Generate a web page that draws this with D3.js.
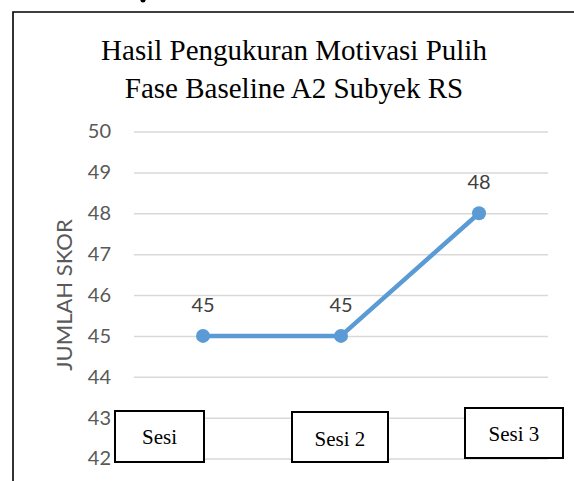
<!DOCTYPE html>
<html>
<head>
<meta charset="utf-8">
<script src="https://cdn.jsdelivr.net/npm/d3@7"></script>
<style>
  body { margin: 0; background: #fff; }
  svg { display: block; }
</style>
</head>
<body>
<div id="chart"></div>
<script>

// chart data
var categories = ["Sesi 1", "Sesi 2", "Sesi 3"];
var scores = [45, 45, 48];
var yTicks = [42, 43, 44, 45, 46, 47, 48, 49, 50];
var titleLines = ["Hasil Pengukuran Motivasi Pulih", "Fase Baseline A2 Subyek RS"];
var boxLabels = ["Sesi", "Sesi 2", "Sesi 3"];

// pasted text boxes over the category axis (left, top, width, height, text baseline)
var boxLayout = [
  {x: 115, y: 411, w: 89, h: 51, base: 444},
  {x: 292, y: 412, w: 96, h: 50, base: 446},
  {x: 465, y: 408, w: 98, h: 50, base: 441}
];

var W = 574, H = 481;
var margin = {top: 131.5, left: 134},
    width = 414,
    height = 327;

var svg = d3.select("#chart")
  .append("svg")
  .attr("width", W)
  .attr("height", H);

// frame of the picture (only top and left edges are visible)
svg.append("path")
  .attr("d", "M13,481 L13,12 L574,12")
  .attr("fill", "none")
  .attr("stroke", "#000")
  .attr("stroke-width", 1.6);

// speck of a letter cut off by the top edge
svg.append("ellipse")
  .attr("cx", 143)
  .attr("cy", 0.5)
  .attr("rx", 2.5)
  .attr("ry", 2)
  .attr("fill", "#000");

// title
svg.append("text")
  .attr("text-anchor", "middle")
  .style("font-family", "'Liberation Serif', 'Times New Roman', serif")
  .style("font-size", "29px")
  .attr("fill", "#000")
  .selectAll("tspan")
  .data(titleLines)
  .enter()
  .append("tspan")
  .attr("x", 294)
  .attr("y", function(d, i) { return 60 + i * 38; })
  .text(function(d) { return d; });

var g = svg.append("g")
  .attr("transform", "translate(" + margin.left + "," + margin.top + ")");

var xScale = d3.scalePoint()
  .domain(categories)
  .range([0, width])
  .padding(0.5);

var yScale = d3.scaleLinear()
  .domain([42, 50])
  .range([height, 0]);

// y axis with gridlines
var yAxis = d3.axisLeft(yScale)
  .tickValues(yTicks)
  .tickSizeInner(-width)
  .tickSizeOuter(0)
  .tickPadding(23);

var ya = g.append("g")
  .attr("class", "y axis")
  .call(yAxis);

ya.select(".domain").remove();
ya.selectAll("line")
  .attr("stroke", "#d9d9d9")
  .attr("stroke-width", 1.5);
ya.selectAll("text")
  .attr("fill", "#595959")
  .style("font-family", "Lato, 'Open Sans', sans-serif")
  .style("font-size", "20px");

// axis title
svg.append("text")
  .attr("transform", "translate(72,295) rotate(-90)")
  .attr("text-anchor", "middle")
  .attr("fill", "#595959")
  .style("font-family", "Lato, 'Open Sans', sans-serif")
  .style("font-size", "22px")
  .text("JUMLAH SKOR");

// line
var line = d3.line()
  .x(function(d, i) { return xScale(categories[i]); })
  .y(function(d) { return yScale(d); });

g.append("path")
  .datum(scores)
  .attr("d", line)
  .attr("fill", "none")
  .attr("stroke", "#5b9bd5")
  .attr("stroke-width", 4.5)
  .attr("stroke-linejoin", "round");

g.selectAll(".dot")
  .data(scores)
  .enter()
  .append("circle")
  .attr("class", "dot")
  .attr("cx", function(d, i) { return xScale(categories[i]); })
  .attr("cy", function(d) { return yScale(d); })
  .attr("r", 7)
  .attr("fill", "#5b9bd5");

// data labels
g.selectAll(".label")
  .data(scores)
  .enter()
  .append("text")
  .attr("class", "label")
  .attr("x", function(d, i) { return xScale(categories[i]); })
  .attr("y", function(d) { return yScale(d) - 24; })
  .attr("text-anchor", "middle")
  .attr("fill", "#404040")
  .style("font-family", "Lato, 'Open Sans', sans-serif")
  .style("font-size", "20px")
  .text(function(d) { return d; });

// text boxes covering the category labels
var boxes = svg.selectAll(".sesi")
  .data(boxLabels)
  .enter()
  .append("g")
  .attr("class", "sesi");

boxes.append("rect")
  .attr("x", function(d, i) { return boxLayout[i].x; })
  .attr("y", function(d, i) { return boxLayout[i].y; })
  .attr("width", function(d, i) { return boxLayout[i].w; })
  .attr("height", function(d, i) { return boxLayout[i].h; })
  .attr("fill", "#fff")
  .attr("stroke", "#000")
  .attr("stroke-width", 2);

boxes.append("text")
  .attr("x", function(d, i) { return boxLayout[i].x + boxLayout[i].w / 2; })
  .attr("y", function(d, i) { return boxLayout[i].base; })
  .attr("text-anchor", "middle")
  .style("font-family", "'Liberation Serif', 'Times New Roman', serif")
  .style("font-size", "21px")
  .text(function(d) { return d; });

</script>
</body>
</html>
